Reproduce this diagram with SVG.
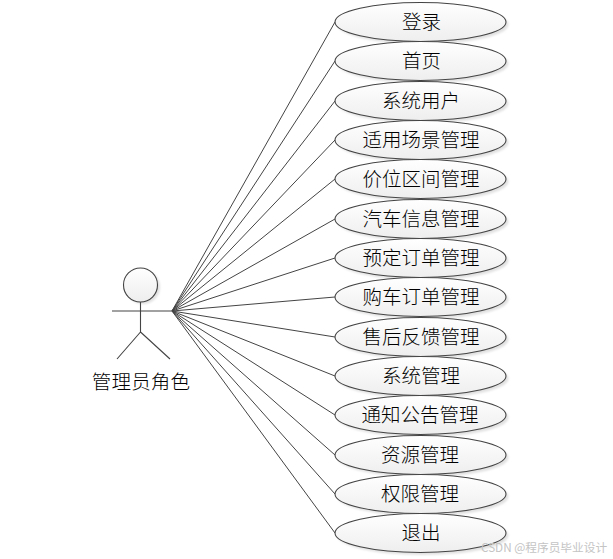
<svg xmlns="http://www.w3.org/2000/svg" width="613" height="559" viewBox="0 0 613 559">
<style>
.u{fill:url(#g);stroke:#444;stroke-width:1.1}
.s{fill:#000;fill-opacity:.12;filter:url(#b)}
.t{font-family:"Noto Sans CJK SC","Noto Sans CJK JP",sans-serif;font-size:19.5px;fill:#000;text-anchor:middle;font-weight:300}
.c line{stroke:#444;stroke-width:1}
.a{fill:none;stroke:#444;stroke-width:1.1}
.wm{font-family:"Noto Sans CJK SC","Liberation Sans",sans-serif;font-size:11.7px;fill:#c4c4c4}
</style>
<defs>
<linearGradient id="g" x1="0" y1="0" x2="0" y2="1"><stop offset="0" stop-color="#fff"/><stop offset="1" stop-color="#eee"/></linearGradient>
<filter id="b" x="-10%" y="-20%" width="120%" height="140%"><feGaussianBlur stdDeviation="1"/></filter>
<ellipse id="e" cx="0" cy="0" rx="85.5" ry="19.5" class="u"/>
<ellipse id="h" cx="2.5" cy="2.5" rx="85.5" ry="19.5" class="s"/>
</defs>
<rect width="613" height="559" fill="#fff"/>
<g id="connectors" class="c">
<line x1="172" y1="311" x2="335" y2="22"/>
<line x1="172" y1="311" x2="335" y2="61"/>
<line x1="172" y1="311" x2="335" y2="101"/>
<line x1="172" y1="311" x2="335" y2="140"/>
<line x1="172" y1="311" x2="335" y2="179"/>
<line x1="172" y1="311" x2="335" y2="219"/>
<line x1="172" y1="311" x2="335" y2="258"/>
<line x1="172" y1="311" x2="335" y2="297"/>
<line x1="172" y1="311" x2="335" y2="337"/>
<line x1="172" y1="311" x2="335" y2="376"/>
<line x1="172" y1="311" x2="335" y2="415"/>
<line x1="172" y1="311" x2="335" y2="455"/>
<line x1="172" y1="311" x2="335" y2="494"/>
<line x1="172" y1="311" x2="335" y2="533"/>
</g>
<g id="actor">
<circle cx="143" cy="287" r="17" class="s"/>
<circle cx="140.500" cy="285" r="17" class="u"/>
<path class="a" d="M140.500 302V332M112 311H172M140.500 332L117 359M140.500 332L170 359"/>
<text x="141" y="389" class="t" style="letter-spacing:.2px">管理员角色</text>
</g>
<g id="u1"><use href="#h" x="420.500" y="22"/><use href="#e" x="420.500" y="22"/><text x="421.500" y="29" class="t">登录</text></g>
<g id="u2"><use href="#h" x="420.500" y="61"/><use href="#e" x="420.500" y="61"/><text x="421.500" y="68" class="t">首页</text></g>
<g id="u3"><use href="#h" x="420.500" y="101"/><use href="#e" x="420.500" y="101"/><text x="421" y="108" class="t">系统用户</text></g>
<g id="u4"><use href="#h" x="420.500" y="140"/><use href="#e" x="420.500" y="140"/><text x="421" y="147" class="t">适用场景管理</text></g>
<g id="u5"><use href="#h" x="420.500" y="179"/><use href="#e" x="420.500" y="179"/><text x="421" y="186" class="t">价位区间管理</text></g>
<g id="u6"><use href="#h" x="420.500" y="219"/><use href="#e" x="420.500" y="219"/><text x="421" y="226" class="t">汽车信息管理</text></g>
<g id="u7"><use href="#h" x="420.500" y="258"/><use href="#e" x="420.500" y="258"/><text x="421" y="265" class="t">预定订单管理</text></g>
<g id="u8"><use href="#h" x="420.500" y="297"/><use href="#e" x="420.500" y="297"/><text x="421" y="304" class="t">购车订单管理</text></g>
<g id="u9"><use href="#h" x="420.500" y="337"/><use href="#e" x="420.500" y="337"/><text x="421" y="344" class="t">售后反馈管理</text></g>
<g id="u10"><use href="#h" x="420.500" y="376"/><use href="#e" x="420.500" y="376"/><text x="421" y="383" class="t">系统管理</text></g>
<g id="u11"><use href="#h" x="420.500" y="415"/><use href="#e" x="420.500" y="415"/><text x="420" y="422" class="t">通知公告管理</text></g>
<g id="u12"><use href="#h" x="420.500" y="455"/><use href="#e" x="420.500" y="455"/><text x="420" y="462" class="t">资源管理</text></g>
<g id="u13"><use href="#h" x="420.500" y="494"/><use href="#e" x="420.500" y="494"/><text x="420" y="501" class="t">权限管理</text></g>
<g id="u14"><use href="#h" x="420.500" y="533"/><use href="#e" x="420.500" y="533"/><text x="421" y="540" class="t">退出</text></g>
<text id="watermark" x="481" y="552" class="wm">CSDN @程序员毕业设计</text>
</svg>
